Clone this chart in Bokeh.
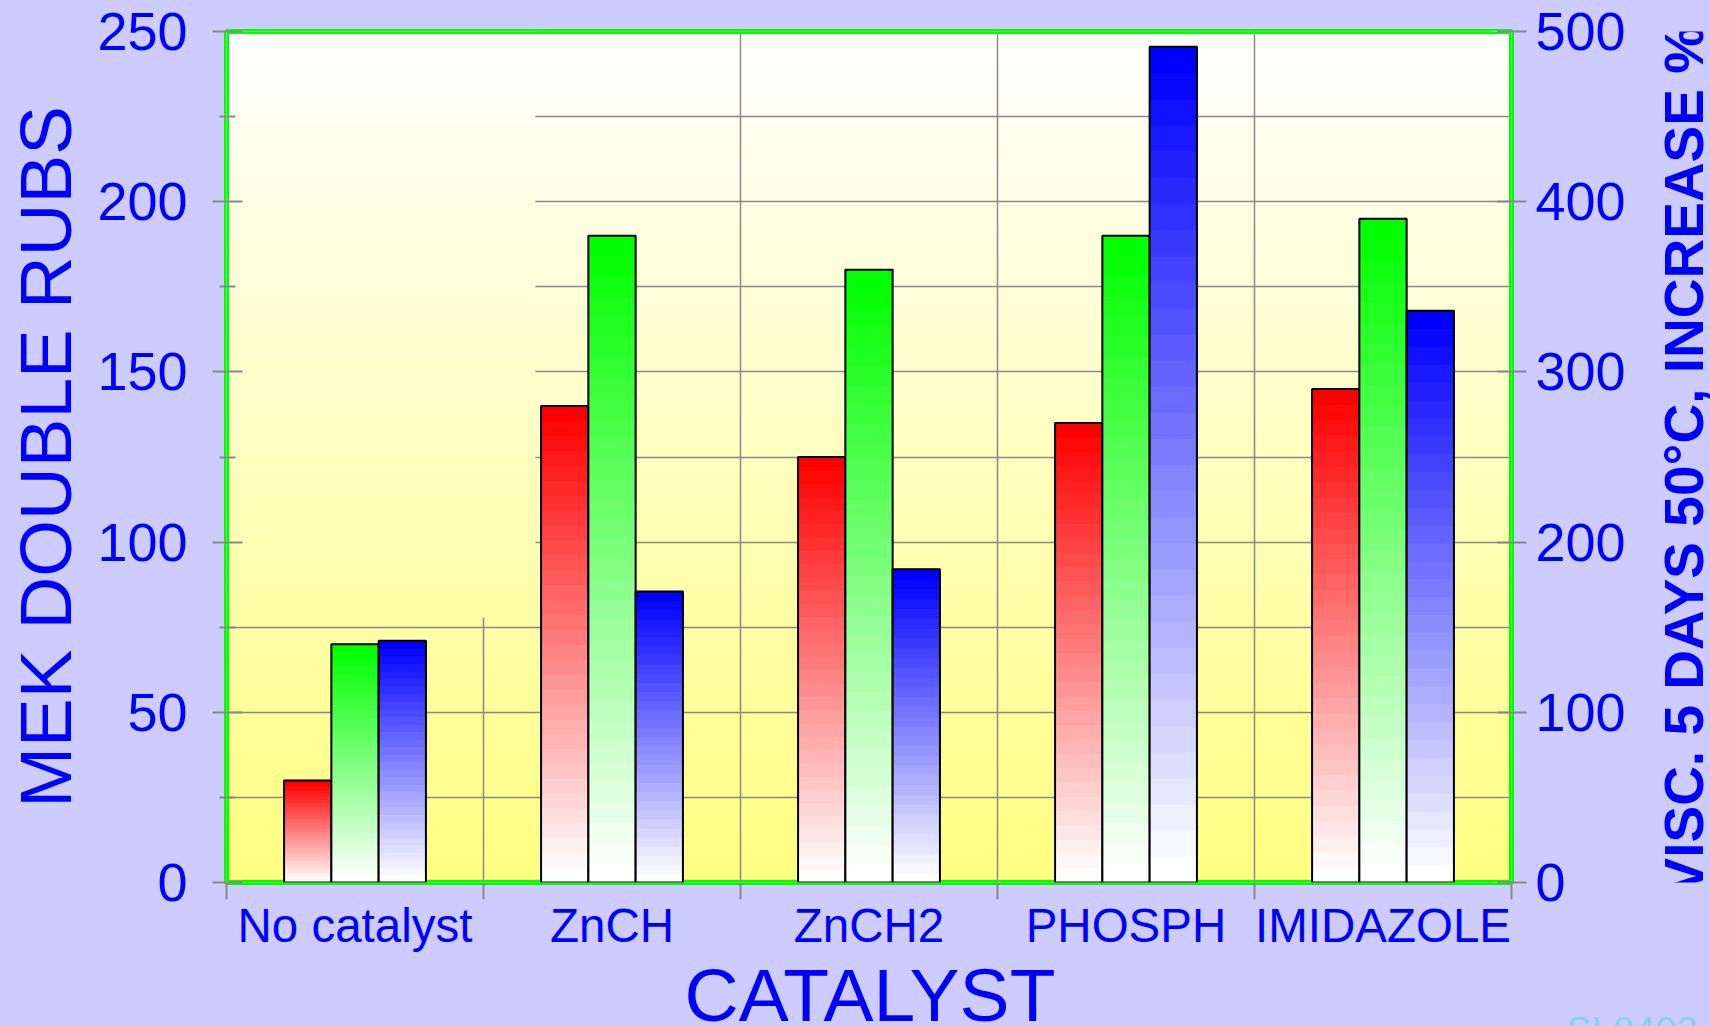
import math
import numpy as np
from bokeh.plotting import figure
from bokeh.layouts import row, column
from bokeh.models import Range1d, LinearAxis, FixedTicker, ColumnDataSource
from bokeh.core.properties import value
from bokeh.embed import file_html
from bokeh.resources import INLINE

# ---------------- data ----------------
categories = ["No catalyst", "ZnCH", "ZnCH2", "PHOSPH", "IMIDAZOLE"]
series_red = [30, 140, 125, 135, 145]      # MEK double rubs (left axis)
series_green = [70, 190, 180, 190, 195]    # MEK double rubs (left axis)
visc_blue = [142, 171, 184, 491, 336]      # visc. increase % (right axis)
left_ticks = [0, 50, 100, 150, 200, 250]
left_minor = [25, 75, 125, 175, 225]
right_ticks = [0, 100, 200, 300, 400, 500]
x_title = "CATALYST"
left_title = "MEK DOUBLE RUBS"
right_title = "VISC. 5 DAYS 50°C, INCREASE %"
slide_id = "SL0403"

# ---------------- styles / layout ----------------
TOTAL_W, TOTAL_H = 1710, 1026
MAIN_W, MAIN_H = 1640, 954
FRAME_L, FRAME_T, FRAME_W, FRAME_H = 226, 31, 1285, 854
BG = "#CCCCFF"
BLUE = "#0000FF"
GRID = "#888888"
FONT = "Liberation Sans"
BAR_W = 0.184
N_BANDS = 32

n = len(categories)
ymin, ymax = left_ticks[0], left_ticks[-1]

p = figure(width=MAIN_W, height=MAIN_H, x_range=Range1d(0, n), y_range=Range1d(ymin, ymax),
           output_backend="svg", toolbar_location=None,
           min_border_left=FRAME_L, min_border_top=FRAME_T,
           min_border_right=MAIN_W - FRAME_L - FRAME_W, min_border_bottom=MAIN_H - FRAME_T - FRAME_H,
           border_fill_color=BG, background_fill_color="white",
           outline_line_color="#00FF00", outline_line_width=5)
p.extra_y_ranges = {"visc": Range1d(right_ticks[0], right_ticks[-1])}


def mix(base, s):
    r, g, b = base
    return "#%02x%02x%02x" % (round(255 + (r - 255) * s), round(255 + (g - 255) * s), round(255 + (b - 255) * s))


# background gradient (white top -> yellow bottom)
edges = np.linspace(ymin, ymax, 161)
bg_cols = [mix((255, 255, 128), 1 - (0.5 * (a + b) - ymin) / (ymax - ymin)) for a, b in zip(edges[:-1], edges[1:])]
p.quad(left=0, right=n, bottom=edges[:-1], top=edges[1:], fill_color=bg_cols, line_color=bg_cols,
       line_width=1, level="image")

# empty legend box that hides the grid in the upper-left corner
BOX_X1, BOX_Y0 = 1.2, 78
sel = [i for i in range(len(edges) - 1) if edges[i + 1] > BOX_Y0]
p.quad(left=0, right=BOX_X1, bottom=[max(edges[i], BOX_Y0) for i in sel], top=[edges[i + 1] for i in sel],
       fill_color=[bg_cols[i] for i in sel], line_color=[bg_cols[i] for i in sel], line_width=1)

# inner half of the green frame border (outer half is the plot outline)
p.quad(left=0, right=n, bottom=ymin, top=ymax, fill_color=None, line_color="#00FF00", line_width=5)

# gradient bars
series = [(series_red, (255, 0, 0), -BAR_W, "default"),
          (series_green, (0, 255, 0), 0.0, "default"),
          (visc_blue, (0, 0, 255), BAR_W, "visc")]
for vals, base, off, rng in series:
    xs, bots, tops, cols = [], [], [], []
    for i, v in enumerate(vals):
        for k in range(N_BANDS):
            xs.append(i + 0.5 + off)
            bots.append(v * k / N_BANDS)
            tops.append(v * (k + 1) / N_BANDS)
            cols.append(mix(base, k / (N_BANDS - 1)))
    src = ColumnDataSource(dict(x=xs, bottom=bots, top=tops, c=cols))
    p.vbar(x="x", width=BAR_W, bottom="bottom", top="top", fill_color="c", line_color="c",
           line_width=1, source=src, y_range_name=rng)
    p.vbar(x=[i + 0.5 + off for i in range(n)], width=BAR_W, bottom=0, top=vals,
           fill_color=None, line_color="black", line_width=2, y_range_name=rng)

# ---------------- axes ----------------
xt = FixedTicker(ticks=[i + 0.5 for i in range(n)], minor_ticks=list(range(n + 1)))
xa = p.xaxis[0]
xa.ticker = xt
xa.major_label_overrides = {i + 0.5: c for i, c in enumerate(categories)}
xa.major_tick_out = 0
xa.major_tick_in = 0
xa.major_tick_line_color = None
xa.minor_tick_out = 17
xa.minor_tick_in = 0
xa.minor_tick_line_color = GRID
xa.minor_tick_line_width = 2
xa.axis_line_color = None
xa.major_label_text_font = FONT
xa.major_label_text_font_size = "47.5px"
xa.major_label_text_color = BLUE
xa.major_label_standoff = -1

p.xgrid.ticker = xt
p.xgrid.grid_line_color = None
p.xgrid.minor_grid_line_color = GRID
p.xgrid.minor_grid_line_width = 1.5

yt = FixedTicker(ticks=left_ticks, minor_ticks=left_minor)
ya = p.yaxis[0]
ya.ticker = yt
ya.axis_label = left_title
ya.axis_label_text_font = FONT
ya.axis_label_text_font_size = "73px"
ya.axis_label_text_font_style = "normal"
ya.axis_label_text_color = BLUE
ya.axis_label_standoff = 8
ya.major_tick_out = 14
ya.major_tick_in = 16
ya.minor_tick_out = 7
ya.minor_tick_in = 9
ya.major_tick_line_color = GRID
ya.minor_tick_line_color = GRID
ya.major_tick_line_width = 2
ya.minor_tick_line_width = 2
ya.axis_line_color = None
ya.major_label_text_font = FONT
ya.major_label_text_font_size = "54px"
ya.major_label_text_color = BLUE
ya.major_label_standoff = 25

p.ygrid.ticker = yt
p.ygrid.grid_line_color = GRID
p.ygrid.grid_line_width = 1.5
p.ygrid.minor_grid_line_color = GRID
p.ygrid.minor_grid_line_width = 1.5

ra = LinearAxis(y_range_name="visc", ticker=FixedTicker(ticks=right_ticks))
ra.major_tick_out = 15
ra.major_tick_in = 14
ra.minor_tick_out = 0
ra.minor_tick_in = 0
ra.major_tick_line_color = GRID
ra.major_tick_line_width = 2
ra.axis_line_color = None
ra.major_label_text_font = FONT
ra.major_label_text_font_size = "54px"
ra.major_label_text_color = BLUE
ra.major_label_standoff = 9
p.add_layout(ra, "right")

# ---------------- right title strip ----------------
RW = TOTAL_W - MAIN_W
pr = figure(width=RW, height=MAIN_H, x_range=Range1d(0, RW), y_range=Range1d(0, MAIN_H),
            output_backend="svg", toolbar_location=None, min_border=0,
            x_axis_location=None, y_axis_location=None,
            border_fill_color=BG, background_fill_color=BG, outline_line_color=None)
pr.xgrid.visible = False
pr.ygrid.visible = False
pr.text(x=[1683.5 - MAIN_W], y=[MAIN_H - 480], text=[right_title], angle=math.pi / 2,
        text_align=value("center"), text_baseline=value("middle"), text_font=value(FONT),
        text_font_style=value("bold"), text_font_size=value("55px"), text_color=BLUE)

# ---------------- bottom strip: axis title ----------------
BH = TOTAL_H - MAIN_H
pb = figure(width=TOTAL_W, height=BH, x_range=Range1d(0, TOTAL_W), y_range=Range1d(0, BH),
            output_backend="svg", toolbar_location=None, min_border=0,
            x_axis_location=None, y_axis_location=None,
            border_fill_color=BG, background_fill_color=BG, outline_line_color=None)
pb.xgrid.visible = False
pb.ygrid.visible = False
pb.text(x=[FRAME_L + FRAME_W / 2 + 1], y=[TOTAL_H - 994], text=[x_title],
        text_align=value("center"), text_baseline=value("middle"),
        text_font=value(FONT), text_font_size=value("75px"), text_color=BLUE)
pb.text(x=[1566], y=[TOTAL_H - 1030.6], text=[slide_id],
        text_align=value("left"), text_baseline=value("middle"),
        text_font=value(FONT), text_font_size=value("38px"), text_color="#88CCFF")

layout = column(row(p, pr, spacing=0, styles={"background-color": BG}), pb, spacing=0,
                styles={"background-color": BG})
open("out.html", "w").write(file_html(layout, INLINE))
